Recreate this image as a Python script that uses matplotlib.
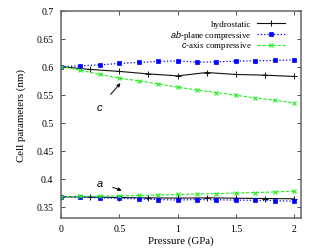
import matplotlib
matplotlib.use("Agg")
import matplotlib.pyplot as plt
from matplotlib.lines import Line2D
import numpy as np

plt.rcParams['font.family'] = ['Liberation Serif', 'DejaVu Serif']
plt.rcParams['mathtext.fontset'] = 'custom'
plt.rcParams['mathtext.it'] = 'Liberation Sans:italic'
plt.rcParams['mathtext.rm'] = 'Liberation Serif'

# hydrostatic
p_hydro = [0, 0.25, 0.5, 0.75, 1.0, 1.25, 1.5, 1.75, 2.0]
c_hydro = [0.6, 0.595, 0.5915, 0.5870, 0.5835, 0.5895, 0.5860, 0.5848, 0.5824]
a_hydro = [0.3675, 0.3670, 0.3660, 0.3655, 0.3650, 0.3655, 0.3648, 0.3643, 0.3638]

# ab-plane compressive
p_ab = [0, 1/6, 2/6, 3/6, 4/6, 5/6, 1.0, 7/6, 8/6, 9/6, 10/6, 11/6, 2.0]
c_ab = [0.6, 0.6015, 0.6032, 0.6057, 0.6075, 0.6093, 0.6104, 0.6080, 0.6086,
        0.6099, 0.6104, 0.6110, 0.6122]
a_ab = [0.3675, 0.3668, 0.3655, 0.3648, 0.3635, 0.3625, 0.3615, 0.3625, 0.3620,
        0.3615, 0.3610, 0.3605, 0.3595]

# c-axis compressive
p_c = [0, 1/6, 2/6, 3/6, 4/6, 5/6, 1.0, 7/6, 8/6, 9/6, 10/6, 11/6, 2.0]
c_c = [0.6, 0.5937, 0.5860, 0.5794, 0.5746, 0.5692, 0.5633, 0.5584, 0.5537,
       0.5489, 0.5441, 0.5400, 0.5351]
a_c = [0.3675, 0.3680, 0.3685, 0.3690, 0.3697, 0.3705, 0.3715, 0.3725, 0.3730,
       0.3740, 0.3750, 0.3760, 0.3774]

labels = ['hydrostatic', '$ab$-plane compressive', '$c$-axis compressive']

fig = plt.figure(figsize=(3.15, 2.51), dpi=100)
ax = fig.add_axes([0.1937, 0.1287, 0.7603, 0.8247])

col_h, col_ab, col_c = '#111111', '#0000ff', '#22ee22'
sty_h = dict(color=col_h, ls='-', lw=0.8, marker='+', ms=4, mew=0.7)
sty_ab = dict(color=col_ab, ls=':', lw=0.9, marker='s', ms=2.6, mew=0.5)
sty_c = dict(color=col_c, ls='--', lw=0.8, marker='x', ms=3.2, mew=0.8, dashes=(3, 1.5))

ax.plot(p_hydro, c_hydro, **sty_h)
ax.plot(p_hydro, a_hydro, **sty_h)
ax.plot(p_ab, c_ab, **sty_ab)
ax.plot(p_ab, a_ab, **sty_ab)
ax.plot(p_c, c_c, **sty_c)
ax.plot(p_c, a_c, **sty_c)

ax.set_xlim(0, 2.054)
ax.set_ylim(0.33, 0.7)
ax.set_xticks([0, 0.5, 1, 1.5, 2])
ax.set_xticklabels(['0', '0.5', '1', '1.5', '2'])
ax.set_yticks([0.35, 0.4, 0.45, 0.5, 0.55, 0.6, 0.65, 0.7])
ax.set_yticklabels(['0.35', '0.4', '0.45', '0.5', '0.55', '0.6', '0.65', '0.7'])
ax.tick_params(direction='in', top=True, right=True, labelsize=7, length=3,
               width=0.6, color='#333333')
ax.tick_params(axis='x', pad=4.5)
ax.tick_params(axis='y', pad=5.5)
for s in ax.spines.values():
    s.set_color('#666666')
    s.set_linewidth(1.1)

ax.set_xlabel('Pressure (GPa)', fontsize=7.8, labelpad=2)
ax.set_ylabel('Cell parameters (nm)', fontsize=7.8, labelpad=7)

# annotations
ax.annotate('$c$', xy=(0.51, 0.5704), xytext=(0.33, 0.528), fontsize=8,
            ha='center', va='center',
            arrowprops=dict(arrowstyle='-|>', color='black', lw=0.7,
                            mutation_scale=5, shrinkA=5, shrinkB=0))
ax.annotate('$a$', xy=(0.52, 0.3787), xytext=(0.33, 0.3925), fontsize=8,
            ha='center', va='center',
            arrowprops=dict(arrowstyle='-|>', color='black', lw=0.7,
                            mutation_scale=5, shrinkA=5, shrinkB=0))

# gnuplot-style legend: right-aligned text, sample on right
rows = [0.940, 0.888, 0.836]
styles = [sty_h, sty_ab, sty_c]
for lab, yy, st in zip(labels, rows, styles):
    ax.text(0.796, yy - 0.013, lab, transform=ax.transAxes, ha='right',
            va='baseline', fontsize=6.5)
    ax.add_line(Line2D([0.817, 0.935], [yy, yy], transform=ax.transAxes,
                       **{k: v for k, v in st.items() if k != 'marker'}))
    ax.add_line(Line2D([0.876], [yy], transform=ax.transAxes, ls='none',
                       marker=st['marker'], ms=st['ms'], mew=st['mew'],
                       color=st['color']))

fig.savefig('out.png', dpi=100)
